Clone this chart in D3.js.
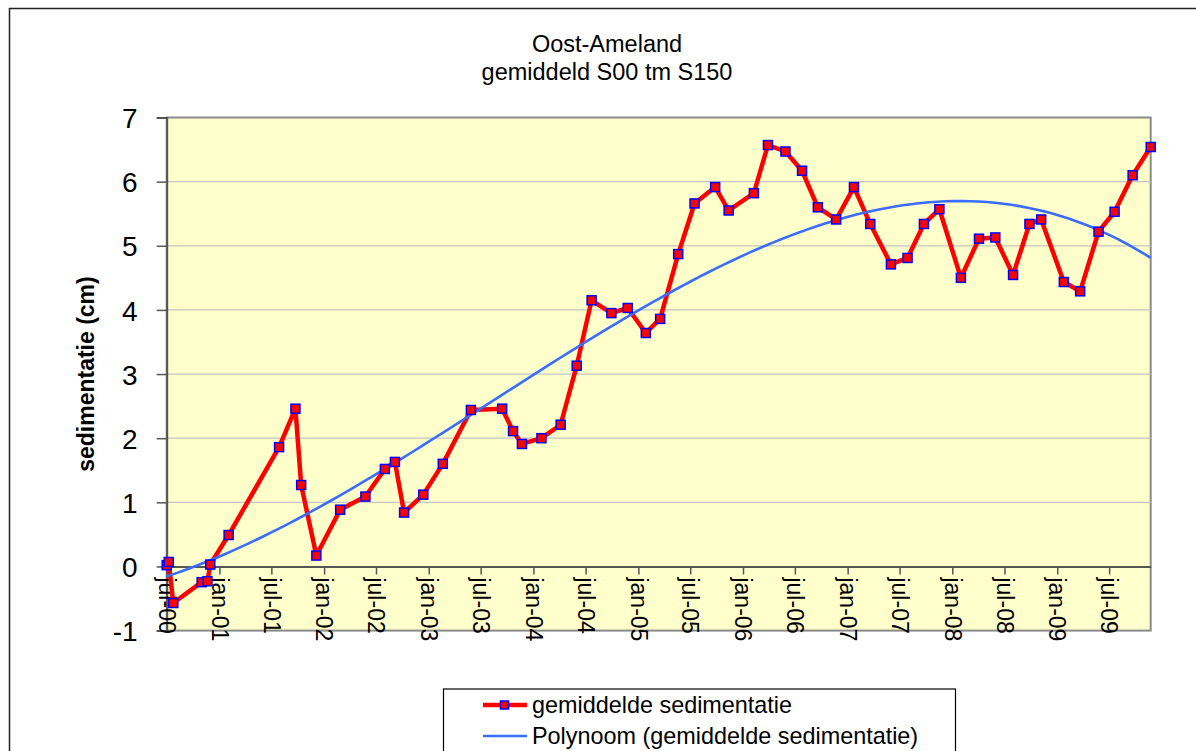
<!DOCTYPE html>
<html>
<head>
<meta charset="utf-8">
<script src="https://d3js.org/d3.v7.min.js"></script>
<style>
  body { margin: 0; background: #fff; }
  svg { display: block; font-family: "Liberation Sans", Arial, sans-serif; }
</style>
</head>
<body>
<svg id="chart" width="1196" height="751"></svg>
<script>
// measurement dates and average sedimentation (cm)
const dates = ["2000-07-01","2000-07-08","2000-07-24","2000-10-31","2000-11-20","2000-11-30",
  "2001-02-02","2001-07-28","2001-09-23","2001-10-13","2001-12-05","2002-02-26","2002-05-25",
  "2002-08-01","2002-09-05","2002-10-07","2002-12-13","2003-02-19","2003-05-28","2003-09-14",
  "2003-10-22","2003-11-22","2004-01-29","2004-04-05","2004-05-31","2004-07-22","2004-09-29",
  "2004-11-25","2005-01-27","2005-03-18","2005-05-20","2005-07-16","2005-09-26","2005-11-12",
  "2006-02-08","2006-03-29","2006-05-29","2006-07-26","2006-09-19","2006-11-22","2007-01-23",
  "2007-03-21","2007-06-01","2007-07-29","2007-09-24","2007-11-17","2008-01-31","2008-04-03",
  "2008-05-30","2008-07-31","2008-09-26","2008-11-06","2009-01-24","2009-03-22","2009-05-25",
  "2009-07-20","2009-09-21","2009-11-23"];
const sedimentatie = [0.02, 0.07, -0.57, -0.245, -0.23, 0.03,
  0.49, 1.86, 2.46, 1.27, 0.17, 0.885, 1.09,
  1.52, 1.63, 0.84, 1.12, 1.60, 2.44, 2.46,
  2.11, 1.91, 2.00, 2.21, 3.13, 4.15, 3.95,
  4.03, 3.64, 3.86, 4.87, 5.66, 5.915, 5.55,
  5.82, 6.57, 6.47, 6.17, 5.60, 5.41, 5.915,
  5.34, 4.71, 4.81, 5.34, 5.57, 4.50, 5.11,
  5.13, 4.545, 5.34, 5.41, 4.435, 4.29, 5.22,
  5.53, 6.10, 6.54];
const yTicks = [-1, 0, 1, 2, 3, 4, 5, 6, 7];
const maanden = ["jan","feb","mrt","apr","mei","jun","jul","aug","sep","okt","nov","dec"];
const titel = ["Oost-Ameland", "gemiddeld S00 tm S150"];
const legendaNamen = ["gemiddelde sedimentatie", "Polynoom (gemiddelde sedimentatie)"];
const polyOrder = 3;

const parse = d3.timeParse("%Y-%m-%d");
const data = dates.map((d, i) => ({date: parse(d), value: sedimentatie[i]}));

const svg = d3.select("#chart");
const plot = {left: 166.7, right: 1150.7, top: 117.5, bottom: 630.6};

// outer chart frame
svg.append("rect")
  .attr("x", 9.5).attr("y", 8.5).attr("width", 1300).attr("height", 900)
  .attr("fill", "none").attr("stroke", "#222").attr("stroke-width", 1.5);

svg.append("g").selectAll("text").data(titel).enter().append("text")
  .attr("x", 607).attr("y", (d, i) => 51.5 + i * 28)
  .attr("text-anchor", "middle").attr("font-size", 23.5).attr("fill", "#000")
  .text(d => d);

const x = d3.scaleTime()
  .domain(d3.extent(data, d => d.date))
  .range([plot.left, plot.right]);
const y = d3.scaleLinear().domain([-1, 7]).range([plot.bottom, plot.top]);

// plot area
svg.append("rect")
  .attr("x", plot.left).attr("y", plot.top)
  .attr("width", plot.right - plot.left).attr("height", plot.bottom - plot.top)
  .attr("fill", "#FFFFCC").attr("stroke", "#8a8a8a").attr("stroke-width", 2);

svg.append("g").selectAll("line").data(yTicks.filter(v => v > 0 && v < 7)).enter().append("line")
  .attr("x1", plot.left).attr("x2", plot.right)
  .attr("y1", d => y(d)).attr("y2", d => y(d))
  .attr("stroke", "#c4c4c4").attr("stroke-width", 1.2);

// y axis
const yAxis = svg.append("g")
  .attr("transform", `translate(${plot.left},0)`)
  .call(d3.axisLeft(y).tickValues(yTicks).tickSize(10).tickPadding(19).tickFormat(d => String(d)));
yAxis.select(".domain").attr("stroke", "#555").attr("stroke-width", 2);
yAxis.selectAll(".tick line").attr("stroke", "#555").attr("stroke-width", 1.5);
yAxis.selectAll(".tick text")
  .attr("font-size", 28).attr("font-family", "Liberation Sans, Arial, sans-serif")
  .attr("fill", "#000").attr("dy", "0.36em");

// x axis at zero
const fmt = d => maanden[d.getMonth()] + "-" + d3.timeFormat("%y")(d);
const xAxis = svg.append("g")
  .attr("transform", `translate(0,${y(0)})`)
  .call(d3.axisBottom(x).ticks(d3.timeMonth.every(6)).tickSize(8).tickSizeOuter(0).tickFormat(fmt));
xAxis.select(".domain").attr("stroke", "#555").attr("stroke-width", 2);
xAxis.selectAll(".tick line").attr("stroke", "#555").attr("stroke-width", 1.5);
xAxis.selectAll(".tick text")
  .attr("font-size", 23).attr("font-family", "Liberation Sans, Arial, sans-serif")
  .attr("fill", "#000")
  .attr("text-anchor", "start")
  .attr("transform", "rotate(90)")
  .attr("x", 11).attr("y", 0).attr("dy", "0.36em");

svg.append("text")
  .attr("transform", `translate(94,${(plot.top + plot.bottom) / 2}) rotate(-90)`)
  .attr("text-anchor", "middle").attr("font-size", 23).attr("font-weight", "bold")
  .text("sedimentatie (cm)");

// series line
const line = d3.line().x(d => x(d.date)).y(d => y(d.value));
svg.append("path").datum(data)
  .attr("d", line).attr("fill", "none")
  .attr("stroke", "#ff0000").attr("stroke-width", 4.5).attr("stroke-linejoin", "round");

// polynomial trendline (least squares, like the spreadsheet trendline)
const t0 = data[0].date;
const yr = d => (d - t0) / (365.25 * 864e5);
function polyfit(xs, ys, n) {
  const m = n + 1;
  const A = Array.from({length: m}, () => new Array(m + 1).fill(0));
  xs.forEach((xv, k) => {
    for (let i = 0; i < m; i++) {
      for (let j = 0; j < m; j++) A[i][j] += Math.pow(xv, i + j);
      A[i][m] += ys[k] * Math.pow(xv, i);
    }
  });
  for (let c = 0; c < m; c++) {
    let p = c;
    for (let r = c + 1; r < m; r++) if (Math.abs(A[r][c]) > Math.abs(A[p][c])) p = r;
    [A[c], A[p]] = [A[p], A[c]];
    for (let r = 0; r < m; r++) {
      if (r === c) continue;
      const f = A[r][c] / A[c][c];
      for (let j = c; j <= m; j++) A[r][j] -= f * A[c][j];
    }
  }
  return A.map((row, i) => row[m] / row[i]);
}
const coef = polyfit(data.map(d => yr(d.date)), data.map(d => d.value), polyOrder);
const evalPoly = t => coef.reduce((s, c, i) => s + c * Math.pow(t, i), 0);
const [dMin, dMax] = x.domain();
const trend = d3.range(0, 121).map(i => {
  const dt = new Date(+dMin + (dMax - dMin) * i / 120);
  return {date: dt, value: evalPoly(yr(dt))};
});
svg.append("path").datum(trend)
  .attr("d", line).attr("fill", "none")
  .attr("stroke", "#3a6cff").attr("stroke-width", 2.6);

// markers
svg.append("g").selectAll("rect").data(data).enter().append("rect")
  .attr("x", d => x(d.date) - 4.5).attr("y", d => y(d.value) - 4.5)
  .attr("width", 9).attr("height", 9)
  .attr("fill", "#ff0000").attr("stroke", "#0000ff").attr("stroke-width", 1.5);

// legend
const leg = svg.append("g");
leg.append("rect")
  .attr("x", 443.5).attr("y", 689).attr("width", 512).attr("height", 120)
  .attr("fill", "#fff").attr("stroke", "#000").attr("stroke-width", 1.2);
const rows = leg.selectAll("g.row").data(legendaNamen).enter().append("g")
  .attr("class", "row")
  .attr("transform", (d, i) => `translate(0,${705 + i * 31})`);
rows.append("line")
  .attr("x1", 483).attr("x2", 527).attr("y1", 0).attr("y2", 0)
  .attr("stroke", (d, i) => i === 0 ? "#ff0000" : "#3a6cff")
  .attr("stroke-width", (d, i) => i === 0 ? 4.5 : 2.6);
rows.filter((d, i) => i === 0).append("rect")
  .attr("x", 500.5).attr("y", -4).attr("width", 8).attr("height", 8)
  .attr("fill", "#ff0000").attr("stroke", "#0000ff").attr("stroke-width", 1.5);
rows.append("text")
  .attr("x", 532).attr("y", 0).attr("dy", "0.36em")
  .attr("font-size", 23.4).attr("fill", "#000")
  .text(d => d);
</script>
</body>
</html>
